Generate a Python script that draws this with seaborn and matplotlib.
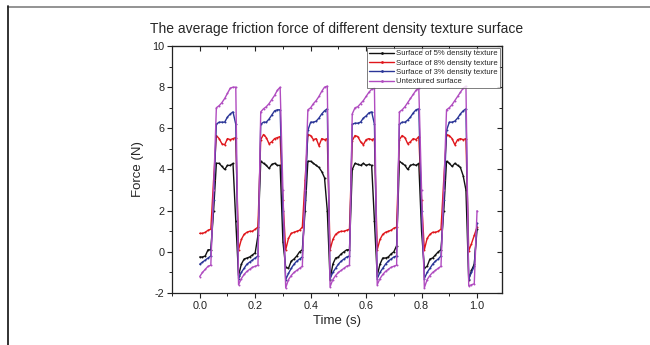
import numpy as np
import pandas as pd
import matplotlib
matplotlib.use("Agg")
import matplotlib.pyplot as plt
from matplotlib.lines import Line2D
from matplotlib.ticker import MultipleLocator
import seaborn as sns

# ---------------- data ----------------
time_s = [round(0.01 * i, 2) for i in range(101)]

force_5pct = [
    -0.25, -0.25, -0.2, 0.1, 0.1, 2.0,
    4.3, 4.3, 4.15, 4.0, 4.2, 4.2, 4.3, 1.5,
    -1.15, -0.6, -0.35, -0.3, -0.25, -0.15, -0.05, 0.8,
    4.4, 4.3, 4.2, 4.05, 4.25, 4.3, 4.2, 4.2, 0.5,
    -0.75, -0.8, -0.45, -0.35, -0.2, 0.0, 0.1, 2.0,
    4.4, 4.4, 4.3, 4.2, 4.1, 3.9, 3.6, 2.0,
    -1.35, -0.6, -0.3, -0.25, -0.1, 0.0, 0.1, 0.1,
    4.0, 4.3, 4.25, 4.2, 4.3, 4.2, 4.25, 4.2, 1.5,
    -1.15, -0.6, -0.3, -0.3, -0.25, -0.1, 0.0, 0.3,
    4.4, 4.3, 4.2, 4.0, 4.2, 4.25, 4.2, 4.3, 1.0,
    -0.8, -0.7, -0.35, -0.3, -0.15, 0.0, 0.1, 2.0,
    4.4, 4.3, 4.15, 4.3, 4.2, 4.1, 3.7, 3.0,
    -1.35, -0.9, -0.6, 1.1,
]

force_8pct = [
    0.9, 0.9, 0.95, 1.05, 1.1, 3.5,
    5.65, 5.5, 5.25, 5.2, 5.5, 5.45, 5.5, 5.55,
    0.1, 0.6, 0.85, 0.95, 1.0, 1.0, 1.1, 1.2,
    5.45, 5.7, 5.55, 5.25, 5.35, 5.5, 5.55, 5.6, 2.5,
    0.1, 0.65, 0.9, 0.95, 1.0, 1.05, 1.2, 3.5,
    5.7, 5.65, 5.45, 5.5, 5.15, 5.5, 5.45, 5.5,
    0.1, 0.6, 0.85, 0.95, 1.0, 1.0, 1.05, 1.1,
    5.4, 5.65, 5.6, 5.35, 5.2, 5.45, 5.5, 5.45, 5.5,
    0.1, 0.6, 0.85, 0.95, 1.0, 1.05, 1.15, 1.2,
    5.45, 5.65, 5.55, 5.25, 5.35, 5.5, 5.45, 5.6, 2.5,
    0.1, 0.65, 0.85, 0.95, 0.95, 1.0, 1.1, 3.5,
    5.7, 5.65, 5.5, 5.2, 5.45, 5.5, 5.45, 5.5,
    0.05, 0.4, 0.8, 1.2,
]

force_3pct = [
    -0.6, -0.5, -0.4, -0.3, -0.2, 2.5,
    6.2, 6.3, 6.3, 6.3, 6.55, 6.7, 6.8, 6.2,
    -1.3, -1.0, -0.8, -0.6, -0.5, -0.4, -0.3, -0.2,
    6.2, 6.3, 6.3, 6.45, 6.65, 6.85, 6.9, 6.9, 2.0,
    -1.35, -1.05, -0.8, -0.6, -0.45, -0.35, -0.25, 2.5,
    5.9, 6.3, 6.3, 6.35, 6.5, 6.7, 6.85, 6.95,
    -1.3, -1.0, -0.8, -0.6, -0.45, -0.35, -0.25, -0.2,
    6.2, 6.25, 6.25, 6.3, 6.5, 6.6, 6.75, 6.8, 6.2,
    -1.3, -1.0, -0.8, -0.6, -0.45, -0.35, -0.25, -0.2,
    6.2, 6.3, 6.3, 6.4, 6.55, 6.75, 6.9, 6.95, 2.0,
    -1.3, -1.0, -0.8, -0.6, -0.45, -0.35, -0.2, 2.5,
    5.9, 6.3, 6.3, 6.35, 6.5, 6.7, 6.85, 6.95,
    -1.3, -1.0, -0.7, 1.4,
]

force_untextured = [
    -1.2, -1.0, -0.85, -0.7, -0.65, 3.0,
    7.0, 7.1, 7.25, 7.45, 7.7, 7.95, 8.0, 8.0,
    -1.6, -1.3, -1.1, -0.95, -0.85, -0.75, -0.7, -0.65,
    6.8, 6.95, 7.05, 7.2, 7.4, 7.6, 7.85, 8.0, 3.0,
    -1.75, -1.35, -1.15, -1.0, -0.9, -0.8, -0.7, 3.0,
    6.9, 7.0, 7.2, 7.35, 7.55, 7.8, 8.0, 8.05,
    -1.7, -1.35, -1.15, -1.0, -0.9, -0.8, -0.7, -0.65,
    6.7, 7.0, 7.05, 7.2, 7.35, 7.55, 7.75, 7.9, 7.95,
    -1.6, -1.3, -1.1, -0.95, -0.85, -0.75, -0.7, -0.65,
    6.8, 6.9, 7.05, 7.25, 7.45, 7.65, 7.85, 7.95, 3.0,
    -1.75, -1.35, -1.15, -1.0, -0.9, -0.8, -0.7, 3.0,
    6.9, 7.0, 7.15, 7.35, 7.55, 7.75, 7.95, 8.05,
    -1.65, -1.6, -1.55, 2.0,
]

series_names = [
    "Surface of 5% density texture",
    "Surface of 8% density texture",
    "Surface of 3% density texture",
    "Untextured surface",
]
series_colors = ["#111111", "#e0161b", "#2a3597", "#b04cc0"]

x_ticks = [0.0, 0.2, 0.4, 0.6, 0.8, 1.0]
y_ticks = [-2, 0, 2, 4, 6, 8, 10]

# ---------------- build long table ----------------
frames = []
for name, vals in zip(series_names,
                      [force_5pct, force_8pct, force_3pct, force_untextured]):
    frames.append(pd.DataFrame({"Time": time_s, "Force": vals, "Series": name}))
df = pd.concat(frames, ignore_index=True)

# ---------------- plot ----------------
sns.set_style("ticks")
plt.rcParams["font.family"] = ["Liberation Sans", "DejaVu Sans"]

fig = plt.figure(figsize=(6.5, 3.45), dpi=100)
ax = fig.add_axes([0.2646, 0.1507, 0.5077, 0.716])

sns.lineplot(
    data=df, x="Time", y="Force", hue="Series",
    hue_order=series_names, palette=series_colors,
    estimator=None, sort=False, linewidth=1.0,
    marker="o", markersize=1.4, markeredgewidth=0, ax=ax,
)

ax.set_xlim(-0.1, 1.09)
ax.set_ylim(-2, 10)
ax.set_xticks(x_ticks)
ax.set_xticklabels([f"{v:.1f}" for v in x_ticks])
ax.set_yticks(y_ticks)
ax.set_yticklabels([str(v) for v in y_ticks])
ax.xaxis.set_minor_locator(MultipleLocator(0.1))
ax.yaxis.set_minor_locator(MultipleLocator(1))
ax.tick_params(which="major", direction="out", length=3.5, width=0.8,
               labelsize=7.8, pad=2, color="#222222", labelcolor="#222222")
ax.tick_params(which="minor", direction="out", length=2, width=0.7,
               color="#222222")
for sp in ax.spines.values():
    sp.set_visible(True)
    sp.set_linewidth(0.9)
    sp.set_color("#222222")

# mirrored inward ticks on top and right
sx = ax.secondary_xaxis("top")
sx.set_xticks(x_ticks)
sx.xaxis.set_minor_locator(MultipleLocator(0.1))
sx.tick_params(which="major", direction="in", length=3.5, width=0.8,
               labeltop=False, color="#222222")
sx.tick_params(which="minor", direction="in", length=2, width=0.7,
               color="#222222")
sy = ax.secondary_yaxis("right")
sy.set_yticks(y_ticks)
sy.yaxis.set_minor_locator(MultipleLocator(1))
sy.tick_params(which="major", direction="in", length=3.5, width=0.8,
               labelright=False, color="#222222")
sy.tick_params(which="minor", direction="in", length=2, width=0.7,
               color="#222222")

ax.set_xlabel("Time (s)", fontsize=9.5, labelpad=3)
ax.set_ylabel("Force (N)", fontsize=9.5, labelpad=6)
ax.set_title("The average friction force of different density texture surface",
             fontsize=10, pad=9)

leg = ax.legend(loc="upper right", fontsize=5.6, frameon=True, fancybox=False,
                borderpad=0.3, labelspacing=0.25, handlelength=3.2,
                handletextpad=0.3, borderaxespad=0.2, numpoints=1)
leg.get_frame().set_edgecolor("#444444")
leg.get_frame().set_linewidth(0.6)
for h in leg.get_lines():
    h.set_linewidth(1.0)
    h.set_markersize(2.0)

# page frame lines of the original figure
fig.add_artist(Line2D([7.5 / 650, 1.0], [1 - 6.5 / 345, 1 - 6.5 / 345],
                      transform=fig.transFigure, color="#8a8a8a", linewidth=1.3))
fig.add_artist(Line2D([7.5 / 650, 7.5 / 650], [0.0, 1 - 6.0 / 345],
                      transform=fig.transFigure, color="#222222", linewidth=1.3))

fig.savefig("out.png", dpi=100)
